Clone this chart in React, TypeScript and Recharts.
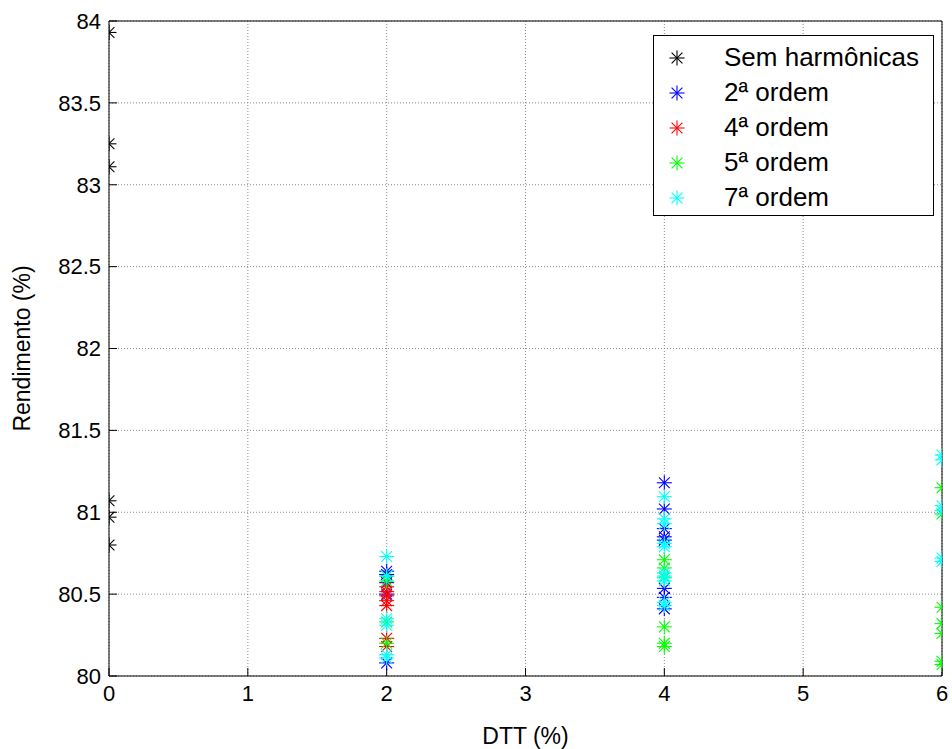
import { ScatterChart, Scatter, XAxis, YAxis, CartesianGrid, Legend } from "recharts";

// DTT (%) levels where harmonic cases were measured
const DTT_LEVELS = [2, 4, 6];

// Rendimento (%)
const SEM_HARMONICAS = [83.93, 83.25, 83.11, 81.07, 80.97, 80.8];
const ORDEM_2 = [
  [80.64, 80.62, 80.57, 80.5, 80.08],
  [81.18, 81.02, 80.9, 80.85, 80.83, 80.535, 80.48, 80.41],
  [],
];
const ORDEM_4 = [
  [80.545, 80.515, 80.49, 80.46, 80.43, 80.23, 80.18],
  [],
  [],
];
const ORDEM_5 = [
  [80.61, 80.58, 80.33, 80.2],
  [80.71, 80.66, 80.6, 80.3, 80.2, 80.18],
  [81.15, 80.99, 80.42, 80.32, 80.26, 80.09, 80.07],
];
const ORDEM_7 = [
  [80.73, 80.61, 80.35, 80.31, 80.13, 80.11],
  [81.095, 80.96, 80.93, 80.81, 80.79, 80.63, 80.61, 80.58, 80.45, 80.43],
  [81.35, 81.32, 81.04, 81.01, 80.72, 80.7],
];

const X_TICKS = [0, 1, 2, 3, 4, 5, 6];
const Y_TICKS = [80, 80.5, 81, 81.5, 82, 82.5, 83, 83.5, 84];

const toPoints = (levels: number[][]) =>
  levels.flatMap((vals, i) => vals.map((y) => ({ x: DTT_LEVELS[i], y })));

const SERIES = [
  { name: "Sem harmônicas", color: "#000000", data: SEM_HARMONICAS.map((y) => ({ x: 0, y })) },
  { name: "2ª ordem", color: "#0000ff", data: toPoints(ORDEM_2) },
  { name: "4ª ordem", color: "#ff0000", data: toPoints(ORDEM_4) },
  { name: "5ª ordem", color: "#00ff00", data: toPoints(ORDEM_5) },
  { name: "7ª ordem", color: "#00ffff", data: toPoints(ORDEM_7) },
];

const FONT = "Arial, 'Liberation Sans', sans-serif";
const TICK = { fontSize: 22, fill: "#000", fontFamily: FONT } as const;
const LABEL = { fontSize: 23, fill: "#000", fontFamily: FONT, textAnchor: "middle" } as const;

// MATLAB-style '*' marker
const Asterisk = ({ cx, cy, color }: { cx: number; cy: number; color: string }) => {
  const r = 7.5;
  const d = r * 0.72;
  return (
    <g stroke={color} strokeWidth={1.1}>
      <line x1={cx - r} y1={cy} x2={cx + r} y2={cy} />
      <line x1={cx} y1={cy - r} x2={cx} y2={cy + r} />
      <line x1={cx - d} y1={cy - d} x2={cx + d} y2={cy + d} />
      <line x1={cx - d} y1={cy + d} x2={cx + d} y2={cy - d} />
    </g>
  );
};

const LegendBox = () => (
  <div
    style={{
      border: "1px solid #000",
      background: "#fff",
      boxSizing: "border-box",
      width: 281,
      height: 181,
      paddingTop: 4,
      fontFamily: FONT,
      fontSize: 26,
    }}
  >
    {SERIES.map((s) => (
      <div key={s.name} style={{ display: "flex", alignItems: "center", height: 35, whiteSpace: "nowrap" }}>
        <svg width={70} height={20} style={{ flex: "none" }}>
          <Asterisk cx={23} cy={10} color={s.color} />
        </svg>
        <span>{s.name}</span>
      </div>
    ))}
  </div>
);

const hiddenTick = () => <g />;

export default function App() {
  return (
    <div style={{ position: "absolute", left: 0, top: 0, width: 952, height: 749, background: "#fff" }}>
      <ScatterChart width={952} height={749} margin={{ top: 0, right: 0, bottom: 0, left: 0 }}>
        <CartesianGrid stroke="#8a8a8a" strokeDasharray="1 2" />
        <XAxis
          type="number" dataKey="x" domain={[0, 6]} ticks={X_TICKS} height={73}
          tick={TICK} tickSize={-8} tickMargin={17}
          axisLine={{ stroke: "#000" }} tickLine={{ stroke: "#000" }}
          allowDataOverflow
          label={{ value: "DTT (%)", position: "insideBottom", offset: 5, style: LABEL }}
        />
        <XAxis
          xAxisId="top" orientation="top" type="number" domain={[0, 6]} ticks={X_TICKS} height={21}
          tick={hiddenTick} tickSize={-8} axisLine={{ stroke: "#000" }} tickLine={{ stroke: "#000" }}
        />
        <YAxis
          type="number" dataKey="y" domain={[80, 84]} ticks={Y_TICKS} width={109}
          tick={TICK} tickSize={-8} tickMargin={16}
          axisLine={{ stroke: "#000" }} tickLine={{ stroke: "#000" }}
          allowDataOverflow
          label={{ value: "Rendimento (%)", angle: -90, position: "insideLeft", offset: 22, style: LABEL }}
        />
        <YAxis
          yAxisId="right" orientation="right" type="number" domain={[80, 84]} ticks={Y_TICKS} width={10}
          tick={hiddenTick} tickSize={-8} axisLine={{ stroke: "#000" }} tickLine={{ stroke: "#000" }}
        />
        <Legend
          layout="vertical" align="center" verticalAlign="middle"
          wrapperStyle={{ left: 653, top: 35, width: 281, height: 181 }}
          content={() => <LegendBox />}
        />
        {SERIES.map((s) => (
          <Scatter
            key={s.name}
            name={s.name}
            data={s.data}
            isAnimationActive={false}
            shape={(p: any) => <Asterisk cx={p.cx} cy={p.cy} color={s.color} />}
          />
        ))}
      </ScatterChart>
    </div>
  );
}
